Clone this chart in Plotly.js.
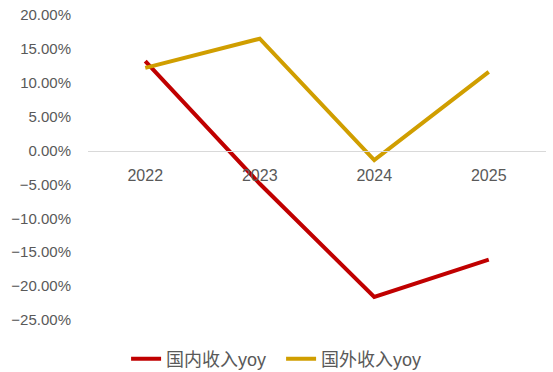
<!DOCTYPE html>
<html><head><meta charset="utf-8">
<script src="https://cdn.plot.ly/plotly-3.0.1.min.js"></script>
<style>body{margin:0;background:#fff}#c{width:553px;height:372px}</style>
</head><body><div id="c"></div>
<script>
const categories = ['2022', '2023', '2024', '2025'];
const domesticYoy = [0.132, -0.049, -0.216, -0.161];
const overseasYoy = [0.122, 0.165, -0.014, 0.116];
const seriesNames = ['国内收入yoy', '国外收入yoy'];
const yTicks = [0.20, 0.15, 0.10, 0.05, 0, -0.05, -0.10, -0.15, -0.20, -0.25];

const font = {family: '"Liberation Sans", "Noto Sans CJK SC", sans-serif', color: '#595959', size: 15};
const data = [
  {x: categories, y: domesticYoy, name: seriesNames[0], type: 'scatter', mode: 'lines',
   line: {color: '#C00000', width: 4}},
  {x: categories, y: overseasYoy, name: seriesNames[1], type: 'scatter', mode: 'lines',
   line: {color: '#D09E00', width: 4}}
];
const layout = {
  width: 553, height: 372,
  margin: {l: 88, r: 7, t: 15, b: 52},
  paper_bgcolor: '#fff', plot_bgcolor: '#fff',
  font: font,
  showlegend: true,
  legend: {orientation: 'h', xref: 'container', yref: 'container', x: 0.228, xanchor: 'left',
           y: 0.035, yanchor: 'middle', itemwidth: 30, entrywidth: 110, entrywidthmode: 'pixels',
           font: {family: font.family, size: 18, color: '#595959'}},
  xaxis: {type: 'category', range: [-0.5, 3.5], domain: [0, 1], anchor: 'free', position: 25/45,
          automargin: false, tickangle: 0,
          showline: true, linecolor: '#d9d9d9', linewidth: 1, showgrid: false, zeroline: false,
          ticks: '', ticklabelstandoff: 10, tickfont: {size: 16, color: '#595959'}},
  yaxis: {range: [-0.25, 0.20], domain: [0, 1], automargin: false, tickvals: yTicks, tickformat: '.2%', showgrid: false,
          zeroline: false, showline: false, ticks: '', ticklabelstandoff: 16,
          tickfont: {size: 15, color: '#595959'}}
};
Plotly.newPlot('c', data, layout, {staticPlot: true});
</script></body></html>
